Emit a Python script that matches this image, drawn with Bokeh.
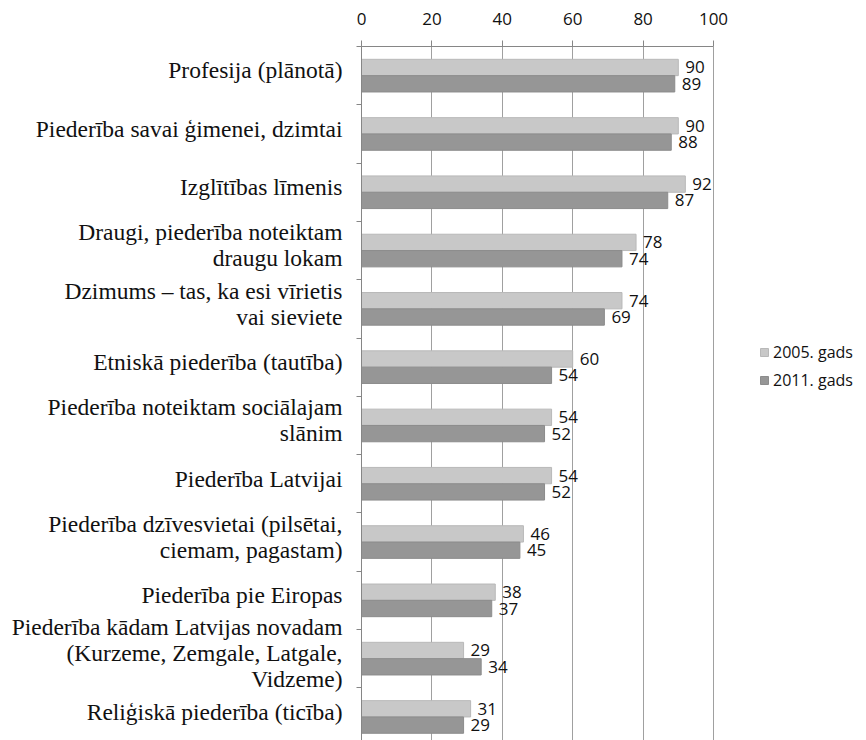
from bokeh.plotting import figure
from bokeh.models import Range1d, FixedTicker, Legend, LegendItem, ColumnDataSource
from bokeh.core.properties import value
from bokeh.embed import file_html
from bokeh.resources import INLINE

categories = [
    "Profesija (plānotā)",
    "Piederība savai ģimenei, dzimtai",
    "Izglītības līmenis",
    "Draugi, piederība noteiktam\ndraugu lokam",
    "Dzimums – tas, ka esi vīrietis\nvai sieviete",
    "Etniskā piederība (tautība)",
    "Piederība noteiktam sociālajam\nslānim",
    "Piederība Latvijai",
    "Piederība dzīvesvietai (pilsētai,\nciemam, pagastam)",
    "Piederība pie Eiropas",
    "Piederība kādam Latvijas novadam\n(Kurzeme, Zemgale, Latgale,\nVidzeme)",
    "Reliģiskā piederība (ticība)",
]
values_2005 = [90, 90, 92, 78, 74, 60, 54, 54, 46, 38, 29, 31]
values_2011 = [89, 88, 87, 74, 69, 54, 52, 52, 45, 37, 34, 29]
series_names = ["2005. gads", "2011. gads"]
x_ticks = [0, 20, 40, 60, 80, 100]

n = len(categories)
idx = list(range(n))
bar_h = 0.28
label_lift = 0.09  # category labels sit slightly above the band centre

src05 = ColumnDataSource(dict(y=[i - bar_h / 2 for i in idx], v=values_2005,
                              t=[str(v) for v in values_2005]))
src11 = ColumnDataSource(dict(y=[i + bar_h / 2 for i in idx], v=values_2011,
                              t=[str(v) for v in values_2011]))

W, H = 858, 740
left_border = 361
top_border = 46
frame_w = W - left_border
frame_h = H - top_border
px_per_unit = 3.52
band_px = 58.3
x_end = frame_w / px_per_unit        # extra room on the right holds the legend
y_bottom = -0.5 + frame_h / band_px  # last band is cut by the window edge, as in the original

p = figure(width=W, height=H,
           x_range=Range1d(0, x_end), y_range=Range1d(y_bottom, -0.5),
           x_axis_location="above",
           output_backend="svg", toolbar_location=None,
           min_border_left=left_border, min_border_right=0,
           min_border_top=top_border, min_border_bottom=0)
p.outline_line_color = None
p.background_fill_color = "white"
p.border_fill_color = "white"

light = "#c8c8c8"
dark = "#969696"

r05 = p.hbar(y="y", right="v", left=0, height=bar_h, source=src05,
             fill_color=light, line_color="#b8b8b8", line_width=1)
r11 = p.hbar(y="y", right="v", left=0, height=bar_h, source=src11,
             fill_color=dark, line_color="#8c8c8c", line_width=1)

for src in (src05, src11):
    p.text(x="v", y="y", text="t", source=src, x_offset=7,
           text_baseline="middle", text_align="left",
           text_font=value("Open Sans"), text_font_size="17px",
           text_color="#111111")

# x axis (top)
xa = p.xaxis[0]
xa.ticker = FixedTicker(ticks=x_ticks)
xa.bounds = (x_ticks[0], x_ticks[-1])
xa.axis_line_color = "#868686"
xa.major_tick_line_color = "#868686"
xa.major_tick_out = 6
xa.major_tick_in = 0
xa.minor_tick_out = 0
xa.minor_tick_in = 0
xa.major_label_standoff = 16
xa.major_label_text_font = "Open Sans"
xa.major_label_text_font_size = "17px"
xa.major_label_text_color = "#111111"

# y axis (left)
label_pos = [i - label_lift for i in idx]
ya = p.yaxis[0]
ya.ticker = FixedTicker(ticks=label_pos, minor_ticks=[i - 0.5 for i in range(n + 1)])
ya.major_label_overrides = {pos: categories[i] for i, pos in enumerate(label_pos)}
ya.axis_line_color = "#868686"
ya.major_tick_out = 0
ya.major_tick_in = 0
ya.minor_tick_out = 5
ya.minor_tick_in = 0
ya.minor_tick_line_color = "#868686"
ya.major_label_standoff = 14
ya.major_label_text_font = "Liberation Serif"
ya.major_label_text_font_size = "23.5px"
ya.major_label_text_color = "#111111"
ya.major_label_text_line_height = 1.0

p.xgrid.grid_line_color = "#a0a0a0"
p.xgrid.ticker = FixedTicker(ticks=x_ticks[1:])
p.ygrid.grid_line_color = None

legend = Legend(items=[LegendItem(label=series_names[0], renderers=[r05]),
                       LegendItem(label=series_names[1], renderers=[r11])],
                location=(398, 349), orientation="vertical")
legend.border_line_color = None
legend.background_fill_alpha = 0
legend.padding = 0
legend.margin = 0
legend.glyph_width = 10
legend.glyph_height = 10
legend.label_standoff = 4
legend.spacing = 6
legend.label_height = 20
legend.label_text_font = "Open Sans"
legend.label_text_font_size = "16px"
legend.label_text_color = "#111111"
p.add_layout(legend, "center")

open("out.html", "w").write(file_html(p, INLINE))
